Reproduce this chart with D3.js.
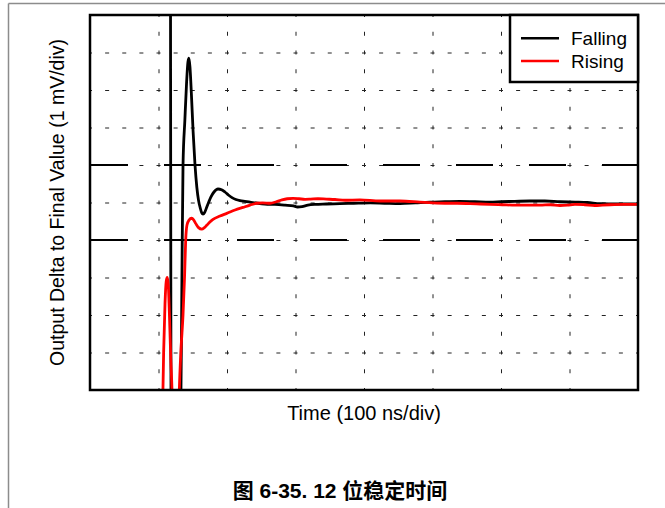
<!DOCTYPE html>
<html>
<head>
<meta charset="utf-8">
<script src="https://cdn.jsdelivr.net/npm/d3@7"></script>
<style>
  html, body { margin: 0; padding: 0; background: #fff; }
  svg { display: block; }
  text { font-family: "Liberation Sans", Arial, "Noto Sans CJK SC", sans-serif; }
</style>
</head>
<body>
<svg id="chart" width="665" height="508"></svg>
<script>
// ---- data ----
const xGridTicks = [100, 200, 300, 400, 500, 600, 700];      // ns
const yGridTicks = [-4, -3, -2, -1, 0, 1, 2, 3, 4];          // mV
const bandLevels = [-1, 1];                                   // mV (long-dash lines)

const fallingT = [117.5, 118.5, 130, 132.8, 134.2, 135.8, 138.5, 141, 143, 144.5, 146, 148, 150.5, 153.3, 156, 158.5, 161, 163, 165, 167.5, 170.5, 173.5, 176.6, 181, 186.9, 192, 197, 202, 207.3, 213, 219, 226, 233.6, 245, 255.5, 270, 284.7, 297, 303, 309.5, 318, 328.5, 345, 365, 385, 408.8, 430, 452.6, 475, 496, 518, 540, 562, 584, 600, 620, 642, 664, 686, 708, 726, 744.5, 770, 800];
const fallingV = [6, -6, -6, -5, -2, 1, 2.2, 3.2, 3.75, 3.85, 3.6, 2.9, 1.9, 1.0, 0.4, 0.05, -0.15, -0.27, -0.31, -0.26, -0.12, 0.02, 0.15, 0.28, 0.36, 0.34, 0.28, 0.2, 0.13, 0.08, 0.05, 0.03, 0.01, -0.02, -0.04, -0.05, -0.07, -0.09, -0.12, -0.11, -0.07, -0.05, -0.04, -0.03, -0.02, -0.01, -0.02, -0.03, -0.01, 0.01, 0.02, 0.03, 0.02, 0.01, 0.02, 0.03, 0.04, 0.04, 0.02, 0.01, 0.0, -0.03, -0.04, -0.04];

const risingT = [105.5, 107.5, 109.5, 111.3, 112.8, 114.3, 115.8, 118, 119.7, 121, 129, 130.4, 132.8, 135.8, 138, 139.7, 141.6, 144.5, 148.5, 151.5, 154.7, 158.5, 163.1, 167, 170.8, 175, 179.6, 189.8, 199.6, 211.7, 223.4, 233.6, 243.4, 252, 262.8, 272, 280.3, 288, 296.4, 305, 313.9, 322, 332.8, 345, 357.7, 372.3, 394, 423.4, 452.6, 481.8, 500, 518, 536, 554.7, 570, 584, 602, 620.4, 640, 657, 672, 686, 697, 708, 722, 737, 748, 759, 780, 800];
const risingV = [-6, -4, -2.7, -2.1, -2.0, -2.2, -2.9, -4.2, -5.0, -6, -6, -5, -3.93, -3.0, -2.0, -1.0, -0.6, -0.47, -0.42, -0.47, -0.57, -0.67, -0.71, -0.67, -0.6, -0.52, -0.45, -0.36, -0.29, -0.2, -0.13, -0.07, -0.02, -0.01, -0.02, 0.02, 0.07, 0.1, 0.11, 0.1, 0.085, 0.09, 0.1, 0.09, 0.08, 0.06, 0.07, 0.04, 0.04, 0.01, -0.01, -0.02, -0.02, -0.03, -0.04, -0.05, -0.06, -0.07, -0.07, -0.07, -0.06, -0.08, -0.07, -0.05, -0.06, -0.08, -0.07, -0.06, -0.05, -0.05];

const seriesNames = ["Falling", "Rising"];
const seriesColors = ["#000000", "#ff0000"];

const xLabel = "Time (100 ns/div)";
const yLabel = "Output Delta to Final Value (1 mV/div)";
const caption = "图 6-35. 12 位稳定时间";

// ---- layout ----
const svg = d3.select("#chart");
const L = 90, R = 638, T = 15, B = 390;
const x = d3.scaleLinear().domain([0, 800]).range([L, R]);
const y = d3.scaleLinear().domain([-5, 5]).range([B, T]);

// page frame
svg.append("line").attr("x1", 8.5).attr("x2", 665).attr("y1", 3.5).attr("y2", 3.5)
  .attr("stroke", "#8c8c8c").attr("stroke-width", 1.5);
svg.append("line").attr("x1", 8.5).attr("x2", 8.5).attr("y1", 3.5).attr("y2", 508)
  .attr("stroke", "#8c8c8c").attr("stroke-width", 1.5);

// grid via axes
const gx = svg.append("g").attr("transform", `translate(0,${B})`)
  .call(d3.axisBottom(x).tickValues(xGridTicks).tickSize(-(B - T)).tickFormat(""));
gx.select(".domain").remove();
gx.selectAll(".tick line").attr("stroke", "#222").attr("stroke-width", 1)
  .attr("stroke-dasharray", "4,14.75").attr("stroke-dashoffset", 2);

const gy = svg.append("g").attr("transform", `translate(${L},0)`)
  .call(d3.axisLeft(y).tickValues(yGridTicks).tickSize(-(R - L)).tickFormat(""));
gy.select(".domain").remove();
gy.selectAll(".tick line").attr("stroke", "#222").attr("stroke-width", 1)
  .attr("stroke-dasharray", "4,13.125").attr("stroke-dashoffset", 2);

// long-dash band lines
svg.selectAll("line.band").data(bandLevels).enter().append("line")
  .attr("class", "band")
  .attr("x1", L + 1).attr("x2", R)
  .attr("y1", d => y(d)).attr("y2", d => y(d))
  .attr("stroke", "#000").attr("stroke-width", 2)
  .attr("stroke-dasharray", "37,36");

// clip
svg.append("clipPath").attr("id", "clip").append("rect")
  .attr("x", L).attr("y", T).attr("width", R - L).attr("height", B - T);

const line = d3.line().x(d => x(d[0])).y(d => y(d[1])).curve(d3.curveMonotoneX);
const falling = fallingT.map((t, i) => [t, fallingV[i]]);
const rising = risingT.map((t, i) => [t, risingV[i]]);

const traces = svg.append("g").attr("clip-path", "url(#clip)");
traces.append("path").datum(falling).attr("d", line)
  .attr("fill", "none").attr("stroke", seriesColors[0]).attr("stroke-width", 2.8)
  .attr("stroke-linejoin", "round");
traces.append("path").datum(rising).attr("d", line)
  .attr("fill", "none").attr("stroke", seriesColors[1]).attr("stroke-width", 2.8)
  .attr("stroke-linejoin", "round");

// plot border
svg.append("rect").attr("x", L).attr("y", T).attr("width", R - L).attr("height", B - T)
  .attr("fill", "none").attr("stroke", "#000").attr("stroke-width", 2.5);

// legend
const lg = svg.append("g");
lg.append("rect").attr("x", 510).attr("y", T).attr("width", R - 510).attr("height", 82 - T)
  .attr("fill", "#fff").attr("stroke", "#000").attr("stroke-width", 2.5);
seriesNames.forEach((name, i) => {
  const yy = 38.3 + i * 22.7;
  lg.append("line").attr("x1", 521).attr("x2", 559).attr("y1", yy).attr("y2", yy)
    .attr("stroke", seriesColors[i]).attr("stroke-width", 2.5);
  lg.append("text").attr("x", 571).attr("y", yy + 6.7).attr("font-size", 19)
    .attr("fill", "#000").text(name);
});

// axis labels
svg.append("text").attr("x", (L + R) / 2).attr("y", 420).attr("text-anchor", "middle")
  .attr("font-size", 20).attr("fill", "#000").text(xLabel);
svg.append("text").attr("transform", `translate(64,${(T + B) / 2}) rotate(-90)`)
  .attr("text-anchor", "middle").attr("font-size", 19.5).attr("fill", "#000").text(yLabel);

// caption
svg.append("text").attr("x", 340).attr("y", 498).attr("text-anchor", "middle")
  .attr("font-size", 21).attr("font-weight", "bold").attr("fill", "#000").text(caption);
</script>
</body>
</html>
